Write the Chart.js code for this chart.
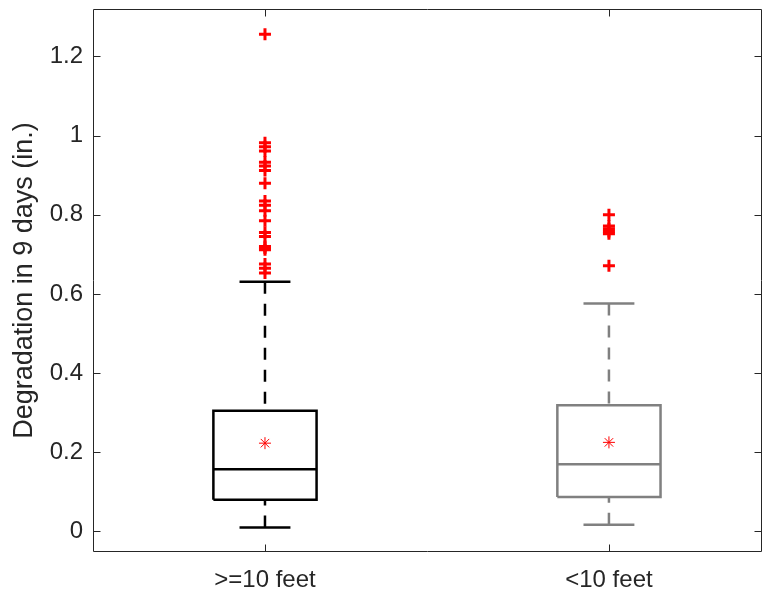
<!DOCTYPE html>
<html>
<head>
<meta charset="utf-8">
<script src="https://cdn.jsdelivr.net/npm/chart.js@4/dist/chart.umd.min.js"></script>
<style>
  html, body { margin: 0; padding: 0; background: #ffffff; }
  #wrap { width: 771px; height: 594px; }
</style>
</head>
<body>
<div id="wrap"><canvas id="c" width="771" height="594"></canvas></div>
<script>
// ---- data ----
const categories = ['>=10 feet', '<10 feet'];
const whiskerLow  = [0.010, 0.017];
const q1          = [0.080, 0.087];
const medians     = [0.157, 0.170];
const q3          = [0.305, 0.319];
const whiskerHigh = [0.631, 0.576];
const means       = [0.223, 0.225];
const outliersGE10 = [1.256, 0.982, 0.972, 0.961, 0.933, 0.923, 0.912, 0.880, 0.835, 0.824,
                      0.810, 0.785, 0.755, 0.745, 0.720, 0.716, 0.712, 0.676, 0.665, 0.653];
const outliersLT10 = [0.800, 0.772, 0.765, 0.758, 0.752, 0.671];
const yTickValues = [0, 0.2, 0.4, 0.6, 0.8, 1.0, 1.2];
const yTickLabels = ['0', '0.2', '0.4', '0.6', '0.8', '1', '1.2'];
const yTitle = 'Degradation in 9 days (in.)';

// ---- styling constants ----
const boxColors = ['#000000', '#808080'];
const outlierColor = '#ff0000';
const BOX_HALF = 0.15;
const CAP_HALF = 0.074;
const LINE_W = 2.5;
const DASH = [12, 10];
const AXIS_COLOR = '#262626';
const FONT = "'Liberation Sans', Arial, Helvetica, sans-serif";

const outlierLists = [outliersGE10, outliersLT10];
const datasets = [];
categories.forEach((cat, i) => {
  const x = i + 1;
  const col = boxColors[i];
  const line = (pts, dashed) => ({
    data: pts, showLine: true, pointRadius: 0, pointHoverRadius: 0, fill: false,
    borderColor: col, borderWidth: LINE_W, borderDash: dashed ? DASH : [],
    tension: 0, borderCapStyle: 'butt', borderJoinStyle: 'miter'
  });
  datasets.push(line([{x: x, y: whiskerHigh[i]}, {x: x, y: q3[i]}], true));
  datasets.push(line([{x: x, y: whiskerLow[i]}, {x: x, y: q1[i]}], true));
  datasets.push(line([{x: x - CAP_HALF, y: whiskerHigh[i]}, {x: x + CAP_HALF, y: whiskerHigh[i]}], false));
  datasets.push(line([{x: x - CAP_HALF, y: whiskerLow[i]}, {x: x + CAP_HALF, y: whiskerLow[i]}], false));
  datasets.push(line([
    {x: x - BOX_HALF, y: q1[i]}, {x: x + BOX_HALF, y: q1[i]},
    {x: x + BOX_HALF, y: q3[i]}, {x: x - BOX_HALF, y: q3[i]},
    {x: x - BOX_HALF, y: q1[i]}
  ], false));
  datasets.push(line([{x: x - BOX_HALF, y: medians[i]}, {x: x + BOX_HALF, y: medians[i]}], false));
  datasets.push({
    data: outlierLists[i].map(v => ({x: x, y: v})),
    showLine: false, pointStyle: 'cross', pointRadius: 6, pointHoverRadius: 6,
    borderColor: outlierColor, backgroundColor: outlierColor, borderWidth: 3
  });
  datasets.push({
    data: [{x: x, y: means[i]}],
    showLine: false, pointStyle: 'star', pointRadius: 6, pointHoverRadius: 6,
    borderColor: outlierColor, backgroundColor: outlierColor, borderWidth: 1
  });
});

const framePlugin = {
  id: 'frame',
  afterDraw(chart) {
    const {ctx, chartArea: a, scales} = chart;
    ctx.save();
    ctx.strokeStyle = AXIS_COLOR;
    ctx.lineWidth = 1;
    ctx.beginPath();
    const L = Math.round(a.left) + 0.5, R = Math.round(a.right) - 0.5;
    const T = Math.round(a.top) + 0.5, B = Math.round(a.bottom) - 0.5;
    ctx.rect(L, T, R - L, B - T);
    const TL = 7;
    yTickValues.forEach(v => {
      const py = Math.round(scales.y.getPixelForValue(v)) + 0.5;
      ctx.moveTo(L, py); ctx.lineTo(L + TL, py);
      ctx.moveTo(R, py); ctx.lineTo(R - TL, py);
    });
    categories.forEach((c, i) => {
      const px = Math.round(scales.x.getPixelForValue(i + 1)) + 0.5;
      ctx.moveTo(px, B); ctx.lineTo(px, B - TL);
      ctx.moveTo(px, T); ctx.lineTo(px, T + TL);
    });
    ctx.stroke();
    ctx.restore();
  }
};

new Chart(document.getElementById('c'), {
  type: 'scatter',
  data: { datasets },
  options: {
    responsive: false,
    animation: false,
    events: [],
    layout: { padding: { left: 0, right: 5, top: 6, bottom: 0 } },
    plugins: { legend: { display: false }, tooltip: { enabled: false } },
    scales: {
      x: {
        type: 'linear', min: 0.5, max: 2.445,
        grid: { display: false, drawTicks: false },
        border: { display: false },
        afterBuildTicks: s => { s.ticks = categories.map((c, i) => ({ value: i + 1 })); },
        afterFit: s => { s.height = 42; s.paddingLeft = 0; s.paddingRight = 0; },
        ticks: {
          autoSkip: false, maxRotation: 0, padding: 14,
          color: AXIS_COLOR, font: { family: FONT, size: 24 },
          callback: v => categories[Math.round(v) - 1]
        }
      },
      y: {
        type: 'linear', min: -0.052, max: 1.320,
        grid: { display: false, drawTicks: false },
        border: { display: false },
        afterBuildTicks: s => { s.ticks = yTickValues.map(v => ({ value: v })); },
        afterFit: s => { s.width = 93; s.paddingTop = 0; s.paddingBottom = 0; },
        ticks: {
          padding: 10, color: AXIS_COLOR, font: { family: FONT, size: 24 },
          callback: v => { const k = yTickValues.findIndex(t => Math.abs(t - v) < 1e-9); return k >= 0 ? yTickLabels[k] : ''; }
        },
        title: {
          display: true, text: yTitle, color: AXIS_COLOR,
          font: { family: FONT, size: 27 }, padding: { top: 8, bottom: 0 }
        }
      }
    }
  },
  plugins: [framePlugin]
});
</script>
</body>
</html>
